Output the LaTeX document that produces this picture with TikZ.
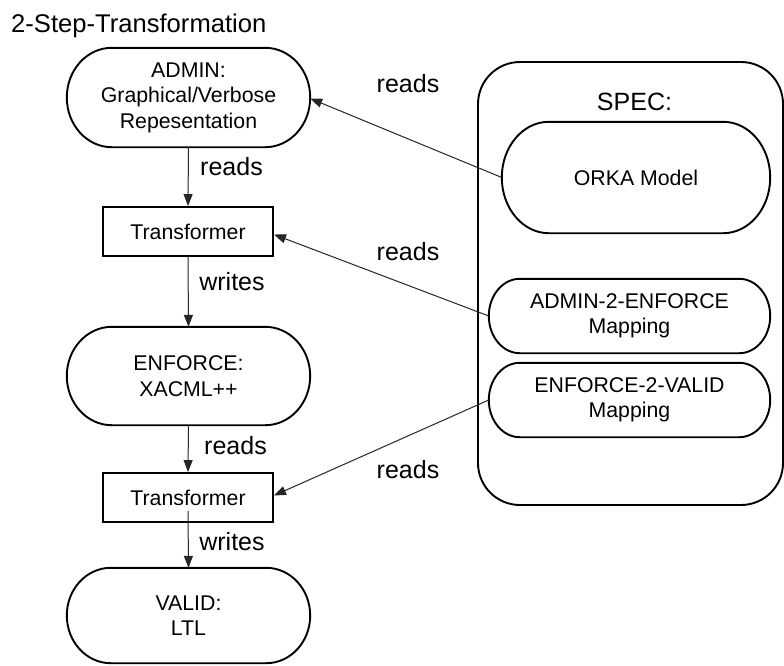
\documentclass[tikz,border=0pt]{standalone}
\usepackage{fontspec}
\setmainfont{Liberation Sans}
\usetikzlibrary{arrows.meta,calc}

% capsule outline around a (borderless) node: straight top and bottom,
% elliptical caps of horizontal radius #2
\newcommand\capsule[2]{%
  \draw[outline] let \p1=(#1.north), \p2=(#1.south), \n1={(\y1-\y2)/2} in
    ([xshift=#2]#1.north west) -- ([xshift=-#2]#1.north east)
    arc[start angle=90, end angle=-90, x radius=#2, y radius=\n1]
    -- ([xshift=#2]#1.south west)
    arc[start angle=270, end angle=90, x radius=#2, y radius=\n1] -- cycle;}

\begin{document}
\begin{tikzpicture}[x=1pt, y=-1pt,
  outline/.style={line width=1.9pt, black},
  txt/.style={font=\fontsize{21.3}{25.5}\selectfont, align=center, inner sep=0pt},
  capnode/.style={txt, draw=none},
  procbox/.style={txt, draw, line width=1.9pt, minimum width=170pt, minimum height=49pt},
  lbl/.style={font=\fontsize{25}{30}\selectfont, inner sep=0pt, anchor=base},
  flow/.style={line width=1pt, draw=black!85, -{Triangle[length=12pt, width=9pt]}}]

\useasboundingbox (0,0) rectangle (784,665);

% title
\node[lbl, anchor=base west, font=\fontsize{25.6}{30}\selectfont] (title) at (11,32)
  {2-Step-Transformation};

% left column: artefacts and transformers
\node[capnode, minimum width=243pt, minimum height=99pt] (admin) at (188.5,97.5)
  {ADMIN:\\Graphical/Verbose\\Repesentation};
\node[procbox] (t1) at (188,231.5) {Transformer};
\node[capnode, minimum width=243pt, minimum height=98pt] (enforce) at (188.5,376)
  {ENFORCE:\\XACML++};
\node[procbox] (t2) at (188,497.5) {Transformer};
\node[capnode, minimum width=243pt, minimum height=95pt] (valid) at (188.5,615.5)
  {VALID:\\LTL};

% right column: specification container
\node[draw, line width=1.9pt, rounded corners=42pt, minimum width=305pt,
  minimum height=443pt] (spec) at (630.5,283.5) {};
\node[lbl] (spectitle) at (634.5,110) {SPEC:};
\node[capnode, minimum width=268pt, minimum height=111pt] (orka) at (636,177.5)
  {ORKA Model};
\node[capnode, minimum width=281pt, minimum height=74pt] (a2e) at (629.5,316)
  {ADMIN-2-ENFORCE\\Mapping};
\node[capnode, minimum width=281pt, minimum height=74pt] (e2v) at (629.5,400)
  {ENFORCE-2-VALID\\Mapping};

\capsule{admin}{45pt}
\capsule{enforce}{45pt}
\capsule{valid}{44pt}
\capsule{orka}{47pt}
\capsule{a2e}{31pt}
\capsule{e2v}{31pt}

% data flow
\draw[flow] (admin.south) -- (t1.north);
\draw[flow] (t1.south) -- (enforce.north);
\draw[flow] (enforce.south) -- (t2.north);
\draw[flow] ([yshift=12pt]t2.south) -- (valid.north);
\draw[flow] (orka.west) -- ([yshift=-1pt]admin.east);
\draw[flow] (a2e.west) -- ([yshift=-3pt]t1.east);
\draw[flow] (e2v.west) -- ([yshift=2pt]t2.east);

% connector labels
\node[lbl] (r1) at (231.5,175) {reads};
\node[lbl] (w1) at (232,290) {writes};
\node[lbl] (r2) at (235.5,454) {reads};
\node[lbl] (w2) at (232,550) {writes};
\node[lbl] (r3) at (408,92) {reads};
\node[lbl] (r4) at (408,260) {reads};
\node[lbl] (r5) at (408,478) {reads};
\end{tikzpicture}
\end{document}
